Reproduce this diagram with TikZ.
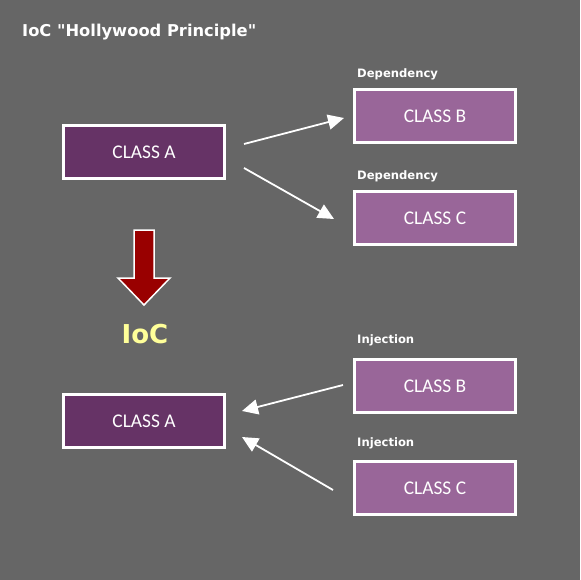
\documentclass[tikz,border=0pt]{standalone}
\usepackage{fontspec}
\setmainfont{Carlito}
\newfontfamily\labfont{DejaVu Sans}
\usetikzlibrary{arrows.meta}
\definecolor{bg}{HTML}{666666}
\definecolor{dark}{HTML}{663366}
\definecolor{light}{HTML}{996699}
\definecolor{arrred}{HTML}{990000}
\definecolor{ioc}{HTML}{FFFF99}
\tikzset{
  darkbox/.style={draw=white, line width=3pt, fill=dark, minimum width=161pt, minimum height=53pt, text=white, font=\fontsize{19.4}{22}\selectfont, inner sep=0pt},
  lightbox/.style={darkbox, fill=light},
  lab/.style={text=white, font=\labfont\bfseries\fontsize{11.6}{13}\selectfont, anchor=west, inner sep=0pt},
  conn/.style={draw=white, line width=1.8pt, -{Triangle[length=16pt,width=15pt]}},
}
\begin{document}
\begin{tikzpicture}[x=1pt,y=-1pt]
\fill[bg] (0,0) rectangle (580,580);
\useasboundingbox (0,0) rectangle (580,580);
\node[text=white, font=\labfont\bfseries\fontsize{16.3}{18}\selectfont, anchor=west, inner sep=0pt] (title) at (22,32) {IoC "Hollywood Principle"};
% top group
\node[darkbox] (a1) at (144,152) {CLASS A};
\node[lightbox] (b1) at (435,116.5) {CLASS B};
\node[lightbox] (c1) at (435,218) {CLASS C};
\node[lab] (d1) at (357,74) {Dependency};
\node[lab] (d2) at (357,176) {Dependency};
\coordinate (s1) at (244,144);
\coordinate (e1) at (344,118);
\coordinate (s2) at (244,168);
\coordinate (e2) at (334,219);
\draw[conn] (s1) -- (e1);
\draw[conn] (s2) -- (e2);
% big arrow
\draw[draw=white, line width=1.5pt, fill=arrred, line join=miter]
  (134,230) -- (154,230) -- (154,278) -- (170,278) -- (144,305) -- (118,278) -- (134,278) -- cycle;
\node[text=ioc, font=\labfont\bfseries\fontsize{26}{28}\selectfont, inner sep=0pt] (ioc) at (145,334) {IoC};
% bottom group
\node[darkbox] (a2) at (144,421) {CLASS A};
\node[lightbox] (b2) at (435,386) {CLASS B};
\node[lightbox] (c2) at (435,488) {CLASS C};
\node[lab] (i1) at (357,340) {Injection};
\node[lab] (i2) at (357,443) {Injection};
\coordinate (s3) at (343,385);
\coordinate (e3) at (242,411);
\coordinate (s4) at (333,490);
\coordinate (e4) at (242,437);
\draw[conn] (s3) -- (e3);
\draw[conn] (s4) -- (e4);
\end{tikzpicture}
\end{document}
